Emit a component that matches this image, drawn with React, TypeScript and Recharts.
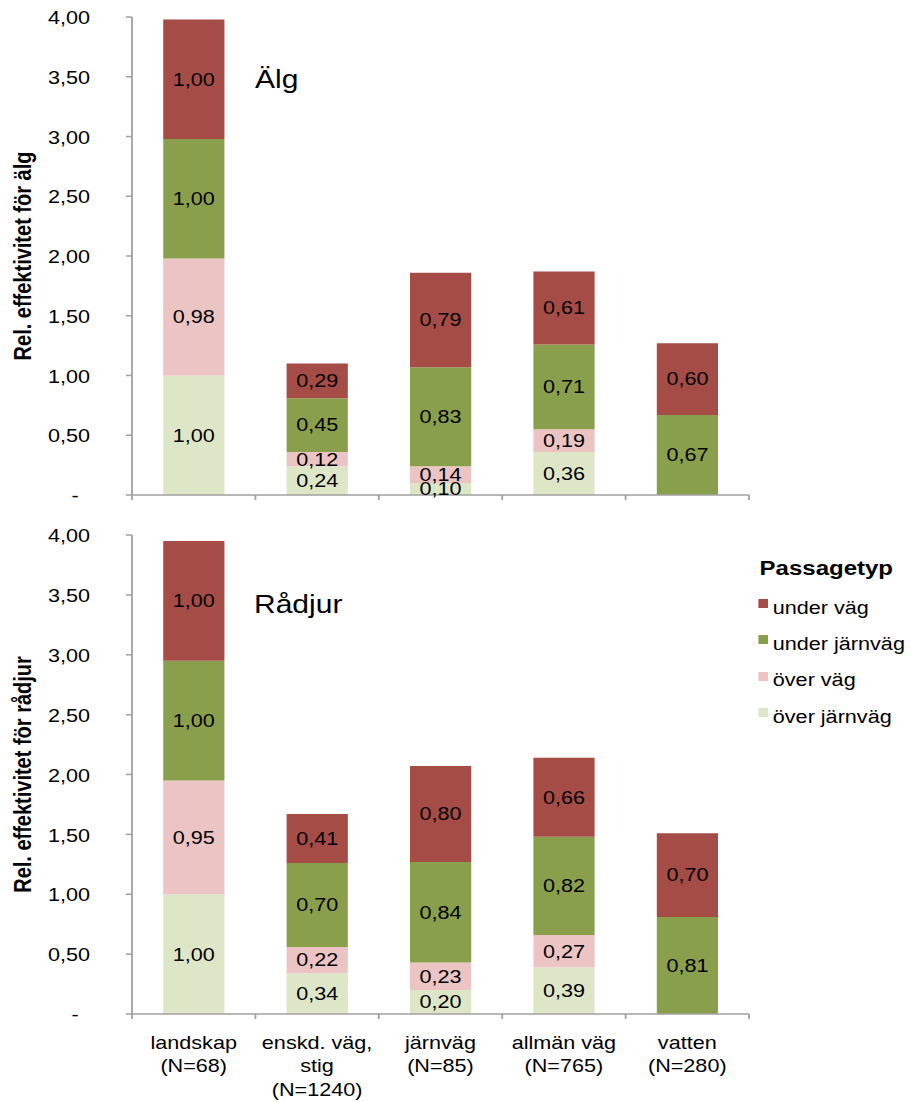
import React from "react";
import { BarChart, Bar, XAxis, YAxis, LabelList } from "recharts";

// category tick labels (one entry per line)
const categoryLines = [
  ["landskap", "(N=68)"],
  ["enskd. väg,", "stig", "(N=1240)"],
  ["järnväg", "(N=85)"],
  ["allmän väg", "(N=765)"],
  ["vatten", "(N=280)"],
];
const categories = ["landskap", "enskd. väg, stig", "järnväg", "allmän väg", "vatten"];

// Älg
const algOverJarnvag = [1.0, 0.24, 0.1, 0.36, 0];
const algOverVag = [0.98, 0.12, 0.14, 0.19, 0];
const algUnderJarnvag = [1.0, 0.45, 0.83, 0.71, 0.67];
const algUnderVag = [1.0, 0.29, 0.79, 0.61, 0.6];

// Rådjur
const radjurOverJarnvag = [1.0, 0.34, 0.2, 0.39, 0];
const radjurOverVag = [0.95, 0.22, 0.23, 0.27, 0];
const radjurUnderJarnvag = [1.0, 0.7, 0.84, 0.82, 0.81];
const radjurUnderVag = [1.0, 0.41, 0.8, 0.66, 0.7];

const yTicks = [0, 0.5, 1, 1.5, 2, 2.5, 3, 3.5, 4];
const xTicks = [0, 0.5, 1, 1.5, 2, 2.5, 3, 3.5, 4, 4.5, 5];

// bottom to top in the stack
const series = [
  { key: "overJarnvag", name: "över järnväg", color: "#DEE6C8" },
  { key: "overVag", name: "över väg", color: "#EBC4C3" },
  { key: "underJarnvag", name: "under järnväg", color: "#8A9F4B" },
  { key: "underVag", name: "under väg", color: "#A64C46" },
];

const buildData = (oj: number[], ov: number[], uj: number[], uv: number[]) =>
  categories.map((cat, i) => ({
    cat,
    pos: i + 0.5, // slot centre on the boundary axis
    overJarnvag: oj[i],
    overVag: ov[i],
    underJarnvag: uj[i],
    underVag: uv[i],
  }));

const algData = buildData(algOverJarnvag, algOverVag, algUnderJarnvag, algUnderVag);
const radjurData = buildData(radjurOverJarnvag, radjurOverVag, radjurUnderJarnvag, radjurUnderVag);

// the original picture is stretched horizontally
const S = 1.2;
const W = 911 / S;
const AXIS = "#A0A0A0";
const FONT = '"Liberation Sans", Arial, sans-serif';

const fmt = (v: number) => v.toFixed(2).replace(".", ",");

const YTick = (props: any) => {
  const { x, y, payload } = props;
  const v = payload.value as number;
  if (v === 0) {
    return (
      <text x={x - 12.5} y={y} dy="0.4em" textAnchor="middle" fontSize={18} fill="#000">
        -
      </text>
    );
  }
  return (
    <text x={x} y={y} dy="0.4em" textAnchor="end" fontSize={18} fill="#000">
      {fmt(v)}
    </text>
  );
};

const makeXTick = (showLabels: boolean) => (props: any) => {
  const { x, y, payload } = props;
  const v = payload.value as number;
  if (Number.isInteger(v)) {
    return <line x1={x} y1={y} x2={x} y2={y + 5} stroke={AXIS} strokeWidth={1.5} />;
  }
  if (!showLabels) return <g />;
  const lines = categoryLines[Math.floor(v)];
  return (
    <text x={x} y={y + 35} textAnchor="middle" fontSize={18} fill="#000">
      {lines.map((l, i) => (
        <tspan key={i} x={x} dy={i === 0 ? 0 : 23.5}>
          {l}
        </tspan>
      ))}
    </text>
  );
};

interface PanelProps {
  data: any[];
  yLabel: string;
  height: number;
  axisHeight: number;
  showCategories: boolean;
}

const Panel: React.FC<PanelProps> = ({ data, yLabel, height, axisHeight, showCategories }) => (
  <BarChart
    width={W}
    height={height}
    data={data}
    margin={{ top: 17, right: W - 749 / S, bottom: 0, left: 0 }}
    barCategoryGap="25.3%"
  >
    <XAxis xAxisId="cat" dataKey="cat" hide height={0} />
    <XAxis
      xAxisId="num"
      dataKey="pos"
      type="number"
      domain={[0, 5]}
      ticks={xTicks}
      interval={0}
      allowDataOverflow
      height={axisHeight}
      axisLine={{ stroke: AXIS, strokeWidth: 1.5 }}
      tickLine={false}
      tickSize={0}
      tickMargin={0}
      tick={makeXTick(showCategories)}
    />
    <YAxis
      width={110}
      domain={[0, 4]}
      ticks={yTicks}
      interval={0}
      axisLine={{ stroke: AXIS, strokeWidth: 1.5 }}
      tickLine={{ stroke: AXIS, strokeWidth: 1.5 }}
      tickSize={5}
      tickMargin={30}
      tick={<YTick />}
      label={{
        value: yLabel,
        angle: -90,
        position: "center",
        dx: -36,
        style: { fontWeight: "bold", fontSize: 20, fill: "#000" },
      }}
    />
    {series.map((s) => (
      <Bar key={s.key} xAxisId="cat" dataKey={s.key} stackId="a" fill={s.color} isAnimationActive={false}>
        <LabelList
          dataKey={s.key}
          position="center"
          fontSize={18}
          fill="#000"
          formatter={(v: any) => (Number(v) ? fmt(Number(v)) : "")}
        />
      </Bar>
    ))}
  </BarChart>
);

const legendOrder = [...series].reverse();

const App: React.FC = () => (
  <div
    style={{
      position: "absolute",
      left: 0,
      top: 0,
      width: W,
      height: 1101,
      transform: `scaleX(${S})`,
      transformOrigin: "0 0",
      fontFamily: FONT,
      background: "#fff",
    }}
  >
    <div style={{ position: "absolute", left: 0, top: 0 }}>
      <Panel data={algData} yLabel="Rel. effektivitet för älg" height={510} axisHeight={15} showCategories={false} />
    </div>
    <div style={{ position: "absolute", left: 0, top: 518 }}>
      <Panel data={radjurData} yLabel="Rel. effektivitet för rådjur" height={583} axisHeight={87} showCategories />
    </div>

    <div style={{ position: "absolute", left: 212.5, top: 66.8, fontSize: 25, lineHeight: "25px" }}>Älg</div>
    <div style={{ position: "absolute", left: 211.7, top: 591.8, fontSize: 25, lineHeight: "25px" }}>Rådjur</div>

    <div
      style={{
        position: "absolute",
        left: 633,
        top: 558,
        fontSize: 20,
        lineHeight: "20px",
        fontWeight: "bold",
        whiteSpace: "nowrap",
      }}
    >
      Passagetyp
    </div>
    {legendOrder.map((s, i) => (
      <React.Fragment key={s.key}>
        <div
          style={{
            position: "absolute",
            left: 632,
            top: 599 + 36.3 * i,
            width: 8.3,
            height: 9,
            background: s.color,
          }}
        />
        <div
          style={{
            position: "absolute",
            left: 644,
            top: 598.8 + 36.3 * i,
            fontSize: 18,
            lineHeight: "18px",
            whiteSpace: "nowrap",
          }}
        >
          {s.name}
        </div>
      </React.Fragment>
    ))}
  </div>
);

export default App;
